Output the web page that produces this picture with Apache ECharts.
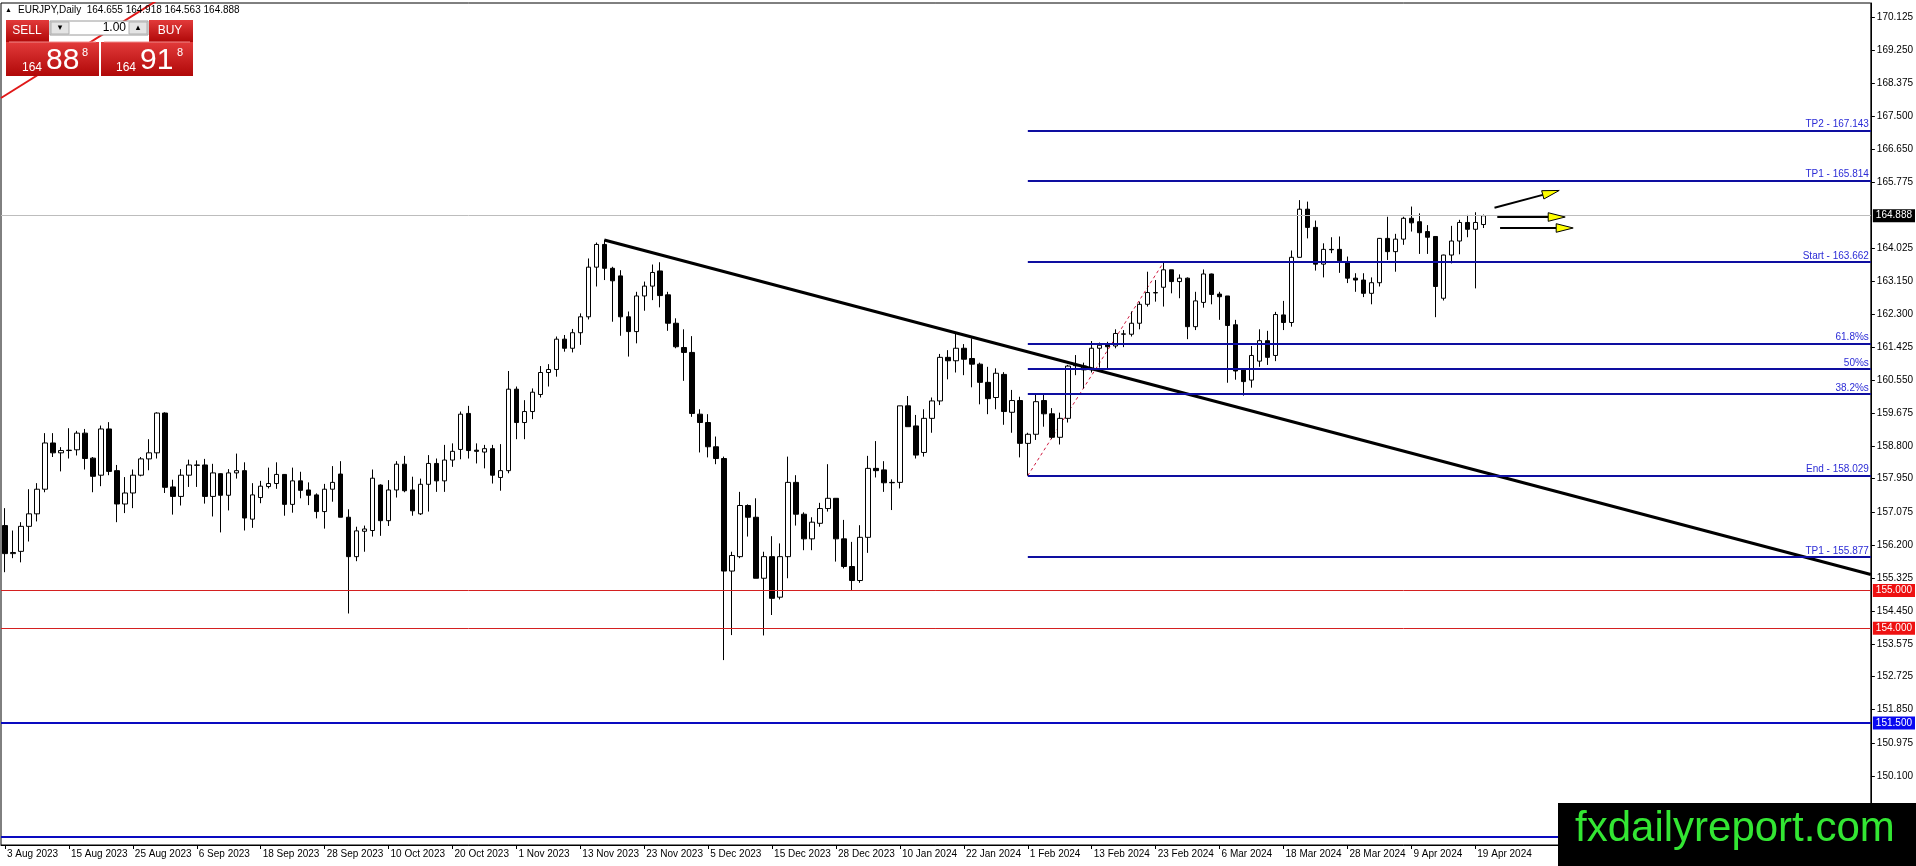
<!DOCTYPE html>
<html><head><meta charset="utf-8">
<script src="https://cdn.jsdelivr.net/npm/echarts@6/dist/echarts.min.js"></script>
<style>html,body{margin:0;padding:0;background:#fff;overflow:hidden}#c{width:1916px;height:866px}</style>
</head><body><div id="c"></div>
<script>
// ---------- data ----------
const symbolName = 'EURJPY,Daily';
const firstDate = '2023-08-03';
const closedDays = ['2023-12-25', '2024-01-01'];
const futureSlots = 48;
const labelEvery = 8;
// candles: [open, close, low, high]
const candles = [
[156.71,155.97,155.48,157.17],[155.97,156.00,155.85,156.58],[156.03,156.69,155.74,156.80],[156.69,157.02,156.29,157.67],
[157.02,157.67,156.82,157.83],[157.67,158.89,157.59,159.15],[158.89,158.63,158.52,159.15],[158.63,158.69,158.14,158.78],
[158.69,158.70,158.48,159.28],[158.71,159.15,158.56,159.21],[159.15,158.48,158.19,159.26],[158.49,158.01,157.59,158.52],
[158.04,159.26,157.75,159.35],[159.26,158.14,158.04,159.44],[158.16,157.28,156.80,158.31],[157.28,157.57,157.04,157.99],
[157.57,158.04,157.17,158.19],[158.04,158.47,158.01,158.52],[158.47,158.63,158.17,158.99],[158.63,159.68,158.48,159.70],
[159.68,157.72,157.57,159.70],[157.73,157.48,157.00,157.92],[157.48,158.04,157.24,158.20],[158.04,158.31,157.73,158.45],
[158.30,158.31,157.73,158.43],[158.31,157.48,157.29,158.47],[157.48,158.10,156.95,158.34],[158.08,157.51,156.53,158.09],
[157.51,158.10,157.11,158.20],[158.10,158.16,157.95,158.61],[158.16,156.91,156.58,158.38],[156.88,157.52,156.65,157.83],
[157.45,157.75,157.30,157.89],[157.74,157.82,157.69,158.24],[157.82,158.06,157.68,158.38],[158.06,157.27,156.97,158.07],
[157.27,157.89,157.05,158.24],[157.89,157.64,157.43,158.13],[157.65,157.51,157.25,157.85],[157.52,157.08,156.90,157.56],
[157.08,157.67,156.63,157.81],[157.67,157.85,157.34,158.28],[158.07,156.93,156.93,158.41],[156.93,155.89,154.39,157.14],
[155.89,156.57,155.77,156.68],[156.56,156.62,156.02,156.71],[156.58,157.96,156.42,158.19],[157.78,156.84,156.44,157.80],
[156.84,157.65,156.70,157.91],[157.65,158.33,157.45,158.41],[158.33,157.63,157.59,158.55],[157.65,157.10,156.97,158.00],
[157.02,157.80,156.99,157.95],[157.80,158.35,157.08,158.57],[158.35,157.89,157.60,158.48],[157.89,158.44,157.60,158.84],
[158.44,158.67,158.26,158.88],[158.72,159.65,158.46,159.72],[159.67,158.69,158.48,159.87],[158.70,158.67,158.35,158.88],
[158.65,158.74,158.22,158.84],[158.74,158.04,157.82,158.84],[157.98,158.16,157.63,158.86],[158.16,160.31,158.09,160.79],
[160.31,159.43,158.99,160.38],[159.43,159.72,158.99,160.02],[159.72,160.23,159.52,160.33],[160.17,160.75,160.09,160.92],
[160.75,160.83,160.38,160.97],[160.83,161.63,160.64,161.70],[161.63,161.39,161.30,161.74],[161.39,161.80,161.28,161.90],
[161.80,162.22,161.48,162.31],[162.22,163.53,162.15,163.76],[163.53,164.13,163.02,164.18],[164.13,163.50,163.19,164.25],
[163.50,163.17,162.09,163.54],[163.30,162.22,161.72,163.45],[162.22,161.83,161.17,162.36],[161.83,162.77,161.52,162.88],
[162.77,163.03,162.38,163.15],[163.03,163.39,162.66,163.60],[163.43,162.78,162.47,163.66],[162.80,162.05,161.85,162.88],
[162.05,161.43,161.39,162.18],[161.41,161.28,160.53,161.89],[161.28,159.67,159.58,161.71],[159.65,159.43,158.64,159.78],
[159.43,158.79,158.51,159.65],[158.79,158.48,158.33,159.06],[158.48,155.51,153.16,158.53],[155.51,155.92,153.82,156.02],
[155.89,157.24,155.85,157.60],[157.24,156.93,156.42,157.27],[156.93,155.32,155.32,157.43],[155.32,155.89,153.81,156.02],
[155.89,154.79,154.35,156.43],[154.82,155.89,154.76,156.24],[155.89,157.85,155.32,158.53],[157.85,157.01,156.71,158.04],
[157.01,156.36,156.06,157.06],[156.36,156.80,156.06,156.93],[156.77,157.16,156.68,157.31],[157.16,157.43,157.08,158.33],
[157.43,156.36,155.76,157.43],[156.36,155.63,155.58,156.86],[155.63,155.26,155.01,156.28],[155.26,156.40,155.20,156.72],
[156.40,158.22,155.99,158.55],[158.22,158.16,157.98,158.94],[158.18,157.84,157.60,158.41],[157.85,157.84,157.12,157.93],
[157.85,159.87,157.69,159.87],[159.87,159.32,159.32,160.13],[159.34,158.57,158.48,159.63],[158.64,159.54,158.53,159.78],
[159.54,160.00,159.16,160.09],[160.00,161.15,159.89,161.24],[161.15,161.06,160.57,161.34],[161.06,161.39,160.75,161.77],
[161.39,161.10,160.68,161.50],[161.12,160.97,160.36,161.65],[160.97,160.49,159.91,161.01],[160.49,160.06,159.65,160.90],
[160.09,160.73,159.78,160.86],[160.70,159.72,159.37,160.76],[159.70,160.01,159.16,160.29],[160.01,158.88,158.51,160.11],
[158.88,159.12,158.029,159.16],[159.12,159.98,158.97,160.16],[160.01,159.66,159.32,160.16],[159.66,159.04,159.00,159.81],
[159.04,159.54,158.85,159.69],[159.54,160.92,159.43,160.95],[160.93,160.95,160.68,161.21],[160.82,160.92,160.33,161.01],
[160.82,161.39,160.75,161.58],[161.39,161.47,160.88,161.54],[161.48,161.43,160.86,161.56],[161.45,161.78,161.39,161.89],
[161.76,161.77,161.42,161.87],[161.76,162.05,161.70,162.36],[162.05,162.55,161.89,162.62],[162.55,162.86,162.49,163.41],
[162.85,162.86,162.62,163.19],[163.00,163.46,162.49,163.662],[163.46,163.15,162.84,163.46],[163.15,163.24,162.71,163.34],
[163.24,161.96,161.63,163.26],[161.96,162.64,161.87,162.88],[162.60,163.35,162.46,163.47],[163.35,162.81,162.55,163.36],
[162.82,162.75,162.14,162.88],[162.77,161.99,160.48,162.77],[162.01,160.79,160.56,162.14],[160.82,160.51,160.14,160.82],
[160.55,161.20,160.35,161.45],[161.05,161.59,160.90,161.89],[161.59,161.15,160.95,161.85],[161.20,162.28,161.05,162.35],
[162.27,162.07,161.87,162.64],[162.07,163.79,161.96,163.97],[163.79,165.06,163.79,165.30],[165.06,164.58,164.29,165.26],
[164.58,163.61,163.44,164.76],[163.61,164.00,163.26,164.16],[164.00,163.99,163.90,164.32],[164.00,163.70,163.38,164.34],
[163.68,163.24,163.11,163.81],[163.24,163.19,162.88,163.37],[163.19,162.84,162.74,163.37],[162.84,163.12,162.55,163.26],
[163.12,164.29,163.02,164.30],[164.29,163.94,163.72,164.86],[163.94,164.27,163.41,164.41],[164.27,164.82,164.12,164.86],
[164.82,164.70,164.47,165.13],[164.73,164.44,163.88,164.95],[164.47,164.32,163.88,164.64],[164.34,163.02,162.21,164.34],
[162.71,163.85,162.65,163.86],[163.85,164.22,163.63,164.62],[164.22,164.71,163.87,164.78],[164.71,164.53,164.32,164.91],
[164.53,164.71,162.97,164.98],[164.655,164.888,164.563,164.918]
];
const quote = {open: 164.655, high: 164.918, low: 164.563, close: 164.888};
const sellBig = '88', sellPip = '8', buyBig = '91', buyPip = '8', priceHandle = '164', lotSize = '1.00';
const yTicks = [170.125,169.25,168.375,167.5,166.65,165.775,164.025,163.15,162.3,161.425,160.55,159.675,
  158.8,157.95,157.075,156.2,155.325,154.45,153.575,152.725,151.85,150.975,150.1];
const yMin = 148.28, yMax = 170.502;
const fibStartIndex = 128;
const fibValues = [167.143, 165.814, 163.662, 161.510, 160.846, 160.181, 158.029, 155.877];
const fibNames = ['TP2 - 167.143','TP1 - 165.814','Start - 163.662','61.8%s','50%s','38.2%s','End - 158.029','TP1 - 155.877'];
const redLevels = [155.0, 154.0];
const blueLevels = [151.5, 148.5];
const blueLevelLabels = ['151.500', ''];
const bidLevel = 164.888;
const trendLine = [[75, 164.247], [233.5, 155.42]];
const redTrend = [[-0.5, 167.995], [19.125, 170.582]];
const fibSwing = [[128, 158.029], [145, 163.662]];
// arrows: [fromIndex, fromPrice, toIndex, toPrice]
const arrows = [[186.4, 165.100, 194.5, 165.554], [186.75, 164.854, 195.25, 164.854], [187.1, 164.564, 196.25, 164.564]];
const brandText = 'fxdailyreport.com';

// ---------- build ----------
const MONTHS = ['Jan','Feb','Mar','Apr','May','Jun','Jul','Aug','Sep','Oct','Nov','Dec'];
function tradingDays(start, count, closed) {
  const d = new Date(start + 'T00:00:00Z'); const out = [];
  while (out.length < count) {
    const dow = d.getUTCDay(); const iso = d.toISOString().slice(0, 10);
    if (dow !== 0 && dow !== 6 && closed.indexOf(iso) < 0)
      out.push(d.getUTCDate() + ' ' + MONTHS[d.getUTCMonth()] + ' ' + d.getUTCFullYear());
    d.setUTCDate(d.getUTCDate() + 1);
  }
  return out;
}
const cats = tradingDays(firstDate, candles.length, closedDays);
for (let i = 0; i < futureSlots; i++) cats.push('');
const xEnd = cats.length - 0.5;
const FONT = '"Liberation Sans", "DejaVu Sans", sans-serif';
const showLabel = (idx, val) => idx % labelEvery === 0 && val !== '';

const markData = [];
fibValues.forEach((v, i) => {
  markData.push([
    {coord: [fibStartIndex, v], lineStyle: {color: '#0e0ea0', width: 2, type: 'solid'},
     label: {show: true, position: 'insideEndTop', formatter: fibNames[i], color: '#2b2bd6', fontSize: 10, fontFamily: FONT, distance: 1, padding: [0, 1, 0, 0]}},
    {coord: [xEnd, v]}
  ]);
});
const boxLabel = (txt, bg) => ({show: true, position: 'end', formatter: txt, backgroundColor: bg, color: '#fff',
  fontSize: 10, fontFamily: FONT, padding: [2, 3, 1, 3], distance: 2});
redLevels.forEach(v => markData.push({yAxis: v, lineStyle: {color: '#d42020', width: 1, type: 'solid'}, label: boxLabel(v.toFixed(3), '#ee1111')}));
blueLevels.forEach((v, i) => markData.push({yAxis: v, lineStyle: {color: '#0a0ac0', width: 2, type: 'solid'},
  label: blueLevelLabels[i] ? boxLabel(blueLevelLabels[i], '#0808f0') : {show: false}}));
markData.push({yAxis: bidLevel, lineStyle: {color: '#bdbdbd', width: 1, type: 'solid'}, label: boxLabel(bidLevel.toFixed(3), '#000')});

const chart = echarts.init(document.getElementById('c'), null, {renderer: 'canvas'});
const topText = symbolName + '  ' + [quote.open, quote.high, quote.low, quote.close].map(v => v.toFixed(3)).join(' ');
const redGrad = {type: 'linear', x: 0, y: 0, x2: 0, y2: 1, colorStops: [{offset: 0, color: '#e23a3a'}, {offset: 1, color: '#b00808'}]};

chart.setOption({
  animation: false,
  backgroundColor: '#fff',
  textStyle: {fontFamily: FONT},
  grid: {left: 1, right: 45, top: 3, bottom: 21, show: true, borderColor: '#000', borderWidth: 1, backgroundColor: 'transparent'},
  xAxis: [{
    type: 'category', data: cats, boundaryGap: true,
    axisLine: {show: true, onZero: false, lineStyle: {color: '#000', width: 1}},
    axisTick: {show: true, interval: showLabel, alignWithLabel: true, length: 4, lineStyle: {color: '#000'}},
    axisLabel: {interval: showLabel, align: 'left', margin: 4, fontSize: 10, color: '#000', fontFamily: FONT, padding: [0, 0, 0, 2]},
    splitLine: {show: false}
  }, {
    type: 'value', min: -0.5, max: xEnd, show: false, axisLine: {onZero: false}
  }],
  yAxis: {
    type: 'value', position: 'right', min: yMin, max: yMax, scale: true,
    axisLine: {show: true, onZero: false, lineStyle: {color: '#000'}},
    axisTick: {show: true, customValues: yTicks, length: 4, lineStyle: {color: '#000'}},
    axisLabel: {customValues: yTicks, formatter: v => v.toFixed(3), margin: 6, fontSize: 10, color: '#000', fontFamily: FONT},
    splitLine: {show: false}
  },
  series: [
    {type: 'line', name: 'levels', xAxisIndex: 1, data: [], silent: true,
     markLine: {symbol: 'none', silent: true, animation: false, data: markData}},
    {type: 'line', name: 'redTrend', xAxisIndex: 1, data: redTrend, showSymbol: false, symbol: 'none', silent: true,
     lineStyle: {color: '#e01818', width: 2}, z: 2},
    {type: 'line', name: 'fibSwing', xAxisIndex: 1, data: fibSwing, showSymbol: false, symbol: 'none', silent: true,
     lineStyle: {color: '#d01a40', width: 1, type: [3, 3]}, z: 2},
    {type: 'candlestick', name: 'EURJPY', xAxisIndex: 0, data: candles, barWidth: 5, silent: true, z: 3,
     itemStyle: {color: '#ffffff', color0: '#000000', borderColor: '#000000', borderColor0: '#000000', borderWidth: 1}},
    {type: 'line', name: 'trend', xAxisIndex: 1, data: trendLine, showSymbol: false, symbol: 'none', silent: true,
     lineStyle: {color: '#000', width: 3}, z: 4},
    {type: 'custom', name: 'arrows', xAxisIndex: 1, data: arrows, silent: true, z: 5, clip: false,
     encode: {x: [0, 2], y: [1, 3]},
     renderItem: (params, api) => {
       const p1 = api.coord([api.value(0), api.value(1)]);
       const p2 = api.coord([api.value(2), api.value(3)]);
       const dx = p2[0] - p1[0], dy = p2[1] - p1[1], L = Math.hypot(dx, dy);
       const ux = dx / L, uy = dy / L, hl = 17, hw = 4.3;
       const bx = p2[0] - ux * hl, by = p2[1] - uy * hl;
       return {type: 'group', children: [
         {type: 'line', shape: {x1: p1[0], y1: p1[1], x2: bx, y2: by}, style: {stroke: '#000', lineWidth: 2}},
         {type: 'polygon', shape: {points: [[p2[0], p2[1]], [bx - uy * hw, by + ux * hw], [bx + uy * hw, by - ux * hw]]},
          style: {fill: '#ffff00', stroke: '#000', lineWidth: 1}}
       ]};
     }}
  ],
  graphic: [
    {type: 'text', z: 100, style: {text: '▲', x: 5, y: 10, fontSize: 7, fill: '#000', verticalAlign: 'middle', fontFamily: FONT}},
    {type: 'text', z: 100, style: {text: topText, x: 18, y: 10, fontSize: 10, fill: '#000', verticalAlign: 'middle', fontFamily: FONT, whiteSpace: 'pre'}},
    {type: 'rect', z: 100, shape: {x: 6, y: 20, width: 43, height: 22}, style: {fill: redGrad}},
    {type: 'rect', z: 100, shape: {x: 6, y: 42, width: 93, height: 34}, style: {fill: redGrad}},
    {type: 'rect', z: 100, shape: {x: 149, y: 20, width: 44, height: 22}, style: {fill: redGrad}},
    {type: 'rect', z: 100, shape: {x: 101, y: 42, width: 92, height: 34}, style: {fill: redGrad}},
    {type: 'line', z: 101, shape: {x1: 9, y1: 42, x2: 96, y2: 42}, style: {stroke: '#f08a8a', lineWidth: 1}},
    {type: 'line', z: 101, shape: {x1: 104, y1: 42, x2: 190, y2: 42}, style: {stroke: '#f08a8a', lineWidth: 1}},
    {type: 'rect', z: 100, shape: {x: 50, y: 21, width: 98, height: 14}, style: {fill: '#fff', stroke: '#9a9a9a', lineWidth: 1}},
    {type: 'rect', z: 101, shape: {x: 51, y: 22, width: 18, height: 12}, style: {fill: '#e4e4e4', stroke: '#b0b0b0', lineWidth: 1}},
    {type: 'rect', z: 101, shape: {x: 129, y: 22, width: 18, height: 12}, style: {fill: '#e4e4e4', stroke: '#b0b0b0', lineWidth: 1}},
    {type: 'text', z: 102, style: {text: '▾', x: 60, y: 28, fontSize: 9, fill: '#000', align: 'center', verticalAlign: 'middle', fontFamily: FONT}},
    {type: 'text', z: 102, style: {text: '▴', x: 138, y: 28, fontSize: 9, fill: '#000', align: 'center', verticalAlign: 'middle', fontFamily: FONT}},
    {type: 'text', z: 102, style: {text: lotSize, x: 126, y: 28, fontSize: 12, fill: '#000', align: 'right', verticalAlign: 'middle', fontFamily: FONT}},
    {type: 'text', z: 102, style: {text: 'SELL', x: 27, y: 31, fontSize: 12, fill: '#fff', align: 'center', verticalAlign: 'middle', fontFamily: FONT}},
    {type: 'text', z: 102, style: {text: 'BUY', x: 170, y: 31, fontSize: 12, fill: '#fff', align: 'center', verticalAlign: 'middle', fontFamily: FONT}},
    {type: 'text', z: 102, style: {text: priceHandle, x: 22, y: 68, fontSize: 12, fill: '#fff', verticalAlign: 'middle', fontFamily: FONT}},
    {type: 'text', z: 102, style: {text: sellBig, x: 46, y: 61, fontSize: 30, fill: '#fff', verticalAlign: 'middle', fontFamily: FONT}},
    {type: 'text', z: 102, style: {text: sellPip, x: 82, y: 53, fontSize: 11, fill: '#fff', verticalAlign: 'middle', fontFamily: FONT}},
    {type: 'text', z: 102, style: {text: priceHandle, x: 116, y: 68, fontSize: 12, fill: '#fff', verticalAlign: 'middle', fontFamily: FONT}},
    {type: 'text', z: 102, style: {text: buyBig, x: 140, y: 61, fontSize: 30, fill: '#fff', verticalAlign: 'middle', fontFamily: FONT}},
    {type: 'text', z: 102, style: {text: buyPip, x: 177, y: 53, fontSize: 11, fill: '#fff', verticalAlign: 'middle', fontFamily: FONT}},
    {type: 'rect', z: 120, shape: {x: 1558, y: 803, width: 358, height: 63}, style: {fill: '#000'}},
    {type: 'text', z: 121, style: {text: brandText, x: 1575, y: 829, fontSize: 42, fill: '#33e633', verticalAlign: 'middle', fontFamily: FONT}}
  ]
});
</script></body></html>
